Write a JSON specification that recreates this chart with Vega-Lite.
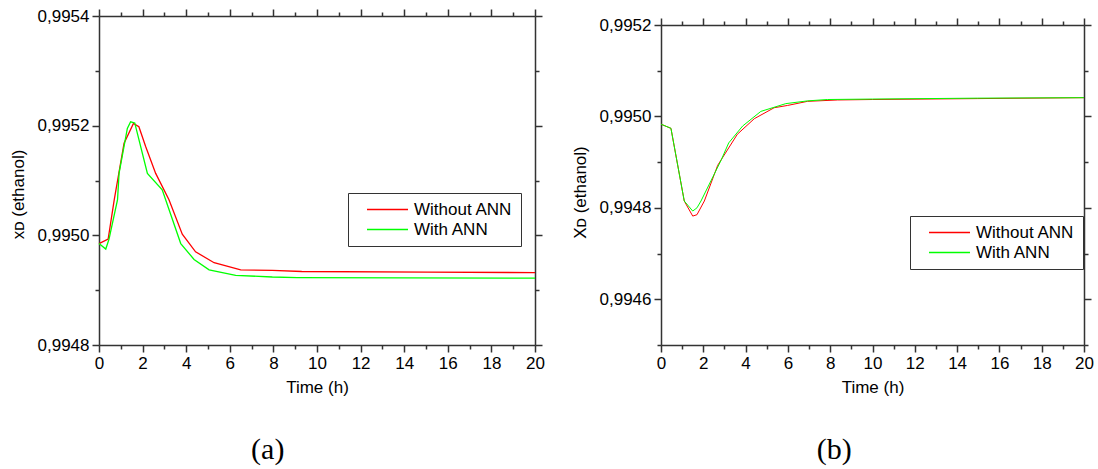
{
  "$schema": "https://vega.github.io/schema/vega-lite/v6.json",
  "background": "white",
  "padding": {"left": 9, "top": 7, "right": 5, "bottom": 5},
  "spacing": 26,
  "resolve": {"scale": {"color": "independent"}, "legend": {"color": "independent"}},
  "config": {
    "font": "Liberation Sans",
    "view": {"stroke": null},
    "axis": {"grid": false, "domainColor": "#333333", "domainWidth": 1.5, "tickColor": "#333333", "tickWidth": 1.5, "labelFont": "Liberation Sans", "labelFontSize": 17, "labelColor": "black", "titleFont": "Liberation Sans", "titleFontSize": 17, "titleFontWeight": "normal", "titleColor": "black"},
    "legend": {"labelFont": "Liberation Sans", "labelFontSize": 17, "labelColor": "black"}
  },
  "datasets": {
    "a": [
      {"t": 0, "v": 0.994985, "s": "Without ANN"},
      {"t": 0.42, "v": 0.994993, "s": "Without ANN"},
      {"t": 0.7, "v": 0.995065, "s": "Without ANN"},
      {"t": 1.15, "v": 0.995168, "s": "Without ANN"},
      {"t": 1.58, "v": 0.995204, "s": "Without ANN"},
      {"t": 1.83, "v": 0.995198, "s": "Without ANN"},
      {"t": 2.14, "v": 0.995162, "s": "Without ANN"},
      {"t": 2.6, "v": 0.995113, "s": "Without ANN"},
      {"t": 3.21, "v": 0.995065, "s": "Without ANN"},
      {"t": 3.82, "v": 0.995002, "s": "Without ANN"},
      {"t": 4.43, "v": 0.99497, "s": "Without ANN"},
      {"t": 5.28, "v": 0.99495, "s": "Without ANN"},
      {"t": 6.5, "v": 0.994937, "s": "Without ANN"},
      {"t": 7.95, "v": 0.994936, "s": "Without ANN"},
      {"t": 9.3, "v": 0.994934, "s": "Without ANN"},
      {"t": 15.06, "v": 0.994933, "s": "Without ANN"},
      {"t": 20, "v": 0.994932, "s": "Without ANN"},
      {"t": 0, "v": 0.994985, "s": "With ANN"},
      {"t": 0.31, "v": 0.994975, "s": "With ANN"},
      {"t": 0.46, "v": 0.994993, "s": "With ANN"},
      {"t": 0.85, "v": 0.995065, "s": "With ANN"},
      {"t": 0.92, "v": 0.995113, "s": "With ANN"},
      {"t": 1.3, "v": 0.995195, "s": "With ANN"},
      {"t": 1.45, "v": 0.995207, "s": "With ANN"},
      {"t": 1.64, "v": 0.995205, "s": "With ANN"},
      {"t": 2.22, "v": 0.995113, "s": "With ANN"},
      {"t": 2.9, "v": 0.995083, "s": "With ANN"},
      {"t": 3.75, "v": 0.994985, "s": "With ANN"},
      {"t": 4.36, "v": 0.994956, "s": "With ANN"},
      {"t": 5.05, "v": 0.994937, "s": "With ANN"},
      {"t": 6.27, "v": 0.994927, "s": "With ANN"},
      {"t": 7.95, "v": 0.994924, "s": "With ANN"},
      {"t": 9.1, "v": 0.994923, "s": "With ANN"},
      {"t": 20, "v": 0.994922, "s": "With ANN"}
    ],
    "b": [
      {"t": 0, "v": 0.994983, "s": "Without ANN"},
      {"t": 0.47, "v": 0.994974, "s": "Without ANN"},
      {"t": 1.1, "v": 0.994815, "s": "Without ANN"},
      {"t": 1.5, "v": 0.994782, "s": "Without ANN"},
      {"t": 1.7, "v": 0.994785, "s": "Without ANN"},
      {"t": 2.05, "v": 0.994815, "s": "Without ANN"},
      {"t": 2.68, "v": 0.994893, "s": "Without ANN"},
      {"t": 3.61, "v": 0.994961, "s": "Without ANN"},
      {"t": 4.41, "v": 0.994995, "s": "Without ANN"},
      {"t": 5.35, "v": 0.995019, "s": "Without ANN"},
      {"t": 5.98, "v": 0.995024, "s": "Without ANN"},
      {"t": 6.93, "v": 0.995033, "s": "Without ANN"},
      {"t": 8.35, "v": 0.995036, "s": "Without ANN"},
      {"t": 10, "v": 0.995037, "s": "Without ANN"},
      {"t": 14.95, "v": 0.995039, "s": "Without ANN"},
      {"t": 20, "v": 0.995041, "s": "Without ANN"},
      {"t": 0, "v": 0.994983, "s": "With ANN"},
      {"t": 0.47, "v": 0.994974, "s": "With ANN"},
      {"t": 1.1, "v": 0.994815, "s": "With ANN"},
      {"t": 1.5, "v": 0.994793, "s": "With ANN"},
      {"t": 1.7, "v": 0.9948, "s": "With ANN"},
      {"t": 1.89, "v": 0.994815, "s": "With ANN"},
      {"t": 2.83, "v": 0.994903, "s": "With ANN"},
      {"t": 3.2, "v": 0.994942, "s": "With ANN"},
      {"t": 3.86, "v": 0.994979, "s": "With ANN"},
      {"t": 4.72, "v": 0.995011, "s": "With ANN"},
      {"t": 5.9, "v": 0.995028, "s": "With ANN"},
      {"t": 6.93, "v": 0.995034, "s": "With ANN"},
      {"t": 7.87, "v": 0.995037, "s": "With ANN"},
      {"t": 10, "v": 0.995038, "s": "With ANN"},
      {"t": 14.95, "v": 0.99504, "s": "With ANN"},
      {"t": 20, "v": 0.995041, "s": "With ANN"}
    ]
  },
  "hconcat": [
    {
      "width": 436,
      "height": 329,
      "data": {"name": "a"},
      "title": {"text": "(a)", "orient": "bottom", "frame": "bounds", "anchor": "middle", "font": "Liberation Serif", "fontSize": 30, "fontWeight": "normal", "color": "black", "offset": 40, "dx": -9},
      "resolve": {"axis": {"x": "independent", "y": "independent"}},
      "layer": [
        {
          "mark": {"type": "line", "strokeWidth": 1.3},
          "encoding": {
            "x": {"field": "t", "type": "quantitative", "scale": {"domain": [0, 20], "nice": false, "zero": false},
              "axis": {"orient": "bottom", "values": [0, 2, 4, 6, 8, 10, 12, 14, 16, 18, 20], "tickSize": 7, "labelPadding": 3, "title": "Time (h)", "titlePadding": 8, "labelFlush": false, "labelOverlap": false}},
            "y": {"field": "v", "type": "quantitative", "scale": {"domain": [0.9948, 0.9954], "nice": false, "zero": false},
              "axis": {"orient": "left", "values": [0.9948, 0.995, 0.9952, 0.9954], "tickSize": 7, "labelPadding": 3, "labelExpr": "replace(format(datum.value, '.4f'), '.', ',')", "title": "xᴅ (ethanol)", "titlePadding": 10, "titleY": 178, "labelOverlap": false}},
            "color": {"field": "s", "type": "nominal", "scale": {"domain": ["Without ANN", "With ANN"], "range": ["#ff0000", "#00ff00"]},
              "legend": {"orient": "none", "legendX": 249, "legendY": 177, "title": null, "symbolType": "stroke", "symbolSize": 1681, "symbolStrokeWidth": 1.3, "clipHeight": 17, "strokeColor": "#333333", "fillColor": "white", "padding": 8, "symbolOffset": 10, "labelOffset": 5, "rowPadding": 2}}
          }
        },
        {
          "mark": {"type": "line", "opacity": 0},
          "encoding": {
            "x": {"field": "t", "type": "quantitative", "axis": {"orient": "bottom", "values": [1, 3, 5, 7, 9, 11, 13, 15, 17, 19], "tickSize": 4, "labels": false, "domain": false, "title": null}},
            "y": {"field": "v", "type": "quantitative", "axis": {"orient": "left", "values": [0.9949, 0.9951, 0.9953], "tickSize": 4, "labels": false, "domain": false, "title": null}}
          }
        },
        {
          "mark": {"type": "line", "opacity": 0},
          "encoding": {
            "x": {"field": "t", "type": "quantitative", "axis": {"orient": "top", "values": [0, 2, 4, 6, 8, 10, 12, 14, 16, 18, 20], "tickSize": 7, "labels": false, "title": null}},
            "y": {"field": "v", "type": "quantitative", "axis": {"orient": "right", "values": [0.9948, 0.995, 0.9952, 0.9954], "tickSize": 7, "labels": false, "title": null}}
          }
        },
        {
          "mark": {"type": "line", "opacity": 0},
          "encoding": {
            "x": {"field": "t", "type": "quantitative", "axis": {"orient": "top", "values": [1, 3, 5, 7, 9, 11, 13, 15, 17, 19], "tickSize": 4, "labels": false, "domain": false, "title": null}},
            "y": {"field": "v", "type": "quantitative", "axis": {"orient": "right", "values": [0.9949, 0.9951, 0.9953], "tickSize": 4, "labels": false, "domain": false, "title": null}}
          }
        }
      ]
    },
    {
      "spacing": -1,
      "vconcat": [
        {
          "width": 423,
          "height": 1,
          "data": {"values": []},
          "mark": "point",
          "encoding": {}
        },
        {
          "width": 423,
          "height": 320,
          "data": {"name": "b"},
          "title": {"text": "(b)", "orient": "bottom", "frame": "bounds", "anchor": "middle", "font": "Liberation Serif", "fontSize": 30, "fontWeight": "normal", "color": "black", "offset": 40, "dx": 2},
          "resolve": {"axis": {"x": "independent", "y": "independent"}},
          "layer": [
            {
              "mark": {"type": "line", "strokeWidth": 1},
              "encoding": {
                "x": {"field": "t", "type": "quantitative", "scale": {"domain": [0, 20], "nice": false, "zero": false},
                  "axis": {"orient": "bottom", "values": [0, 2, 4, 6, 8, 10, 12, 14, 16, 18, 20], "tickSize": 7, "labelPadding": 3, "title": "Time (h)", "titlePadding": 8, "labelFlush": false, "labelOverlap": false}},
                "y": {"field": "v", "type": "quantitative", "scale": {"domain": [0.9945, 0.9952], "nice": false, "zero": false},
                  "axis": {"orient": "left", "values": [0.9946, 0.9948, 0.995, 0.9952], "tickSize": 7, "labelPadding": 3, "labelExpr": "replace(format(datum.value, '.4f'), '.', ',')", "title": "Xᴅ (ethanol)", "titlePadding": 10, "titleY": 167, "labelOverlap": false}},
                "color": {"field": "s", "type": "nominal", "scale": {"domain": ["Without ANN", "With ANN"], "range": ["#ff0000", "#00ff00"]},
                  "legend": {"orient": "none", "legendX": 249, "legendY": 200, "title": null, "symbolType": "stroke", "symbolSize": 1681, "symbolStrokeWidth": 1.3, "clipHeight": 17, "strokeColor": "#333333", "fillColor": "white", "padding": 8, "symbolOffset": 10, "labelOffset": 5, "rowPadding": 2}}
              }
            },
            {
              "mark": {"type": "line", "opacity": 0},
              "encoding": {
                "x": {"field": "t", "type": "quantitative", "axis": {"orient": "bottom", "values": [1, 3, 5, 7, 9, 11, 13, 15, 17, 19], "tickSize": 4, "labels": false, "domain": false, "title": null}},
                "y": {"field": "v", "type": "quantitative", "axis": {"orient": "left", "values": [0.9945, 0.9947, 0.9949, 0.9951], "tickSize": 4, "labels": false, "domain": false, "title": null}}
              }
            },
            {
              "mark": {"type": "line", "opacity": 0},
              "encoding": {
                "x": {"field": "t", "type": "quantitative", "axis": {"orient": "top", "values": [0, 2, 4, 6, 8, 10, 12, 14, 16, 18, 20], "tickSize": 7, "labels": false, "title": null}},
                "y": {"field": "v", "type": "quantitative", "axis": {"orient": "right", "values": [0.9946, 0.9948, 0.995, 0.9952], "tickSize": 7, "labels": false, "title": null}}
              }
            },
            {
              "mark": {"type": "line", "opacity": 0},
              "encoding": {
                "x": {"field": "t", "type": "quantitative", "axis": {"orient": "top", "values": [1, 3, 5, 7, 9, 11, 13, 15, 17, 19], "tickSize": 4, "labels": false, "domain": false, "title": null}},
                "y": {"field": "v", "type": "quantitative", "axis": {"orient": "right", "values": [0.9945, 0.9947, 0.9949, 0.9951], "tickSize": 4, "labels": false, "domain": false, "title": null}}
              }
            }
          ]
        }
      ]
    }
  ]
}
